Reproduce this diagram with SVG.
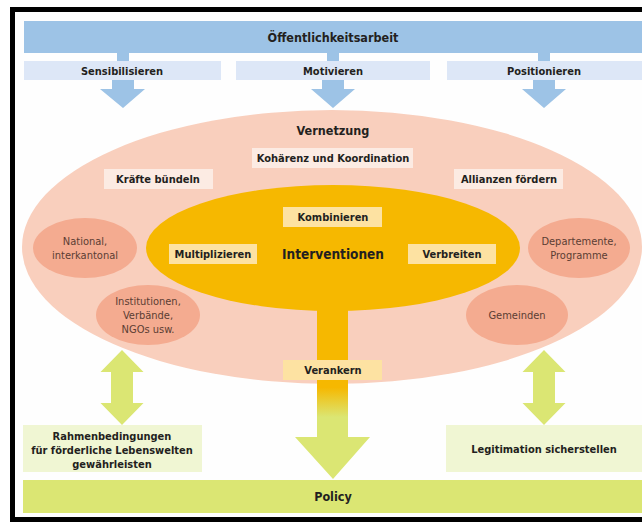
<svg xmlns="http://www.w3.org/2000/svg" width="642" height="523" viewBox="0 0 642 523">
<defs>
<style>
text{font-family:"DejaVu Sans Condensed","DejaVu Sans",sans-serif;fill:#231f20;text-anchor:middle}
.b{font-weight:bold;font-size:11px}
.h{font-weight:bold;font-size:12.5px}
.r{font-size:11px;fill:#5b3d33}
.blue{fill:#9dc3e6}
.lblue{fill:#dde7f7}
.sal{fill:#f9cfbd}
.dsal{fill:#f4ab90}
.gold{fill:#f6b800}
.ly{fill:#fde2a2}
.pk{fill:#fcebe3}
.grn{fill:#dbe673}
.lg{fill:#f0f6d3}
</style>
<linearGradient id="stem" x1="0" y1="0" x2="0" y2="1" gradientUnits="objectBoundingBox">
<stop offset="0" stop-color="#f6b800"/>
<stop offset="0.6" stop-color="#f6b800"/>
<stop offset="0.73" stop-color="#dbe673"/>
<stop offset="1" stop-color="#dbe673"/>
</linearGradient>
</defs>
<rect x="0" y="0" width="642" height="523" fill="#fff"/>
<rect x="12.5" y="9.5" width="640" height="510" fill="#fefefe" stroke="#000" stroke-width="5"/>

<g id="oeffentlichkeitsarbeit">
<rect class="blue" x="24" y="21" width="618" height="32"/>
<text class="h" x="333" y="42">Öffentlichkeitsarbeit</text>
</g>

<g id="connectors">
<rect class="blue" x="117" y="53" width="12" height="8"/>
<rect class="blue" x="327" y="53" width="12" height="8"/>
<rect class="blue" x="538" y="53" width="12" height="8"/>
<path class="blue" d="M112 80H134V89H145L123 108L100 89H112Z"/>
<path class="blue" d="M322 80H344V89H355L333 108L311 89H322Z"/>
<path class="blue" d="M533 80H555V89H566L544 108L522 89H533Z"/>
</g>

<g id="sensibilisieren">
<rect class="lblue" x="24" y="61" width="197" height="19"/>
<text class="b" x="122" y="74.5">Sensibilisieren</text>
</g>
<g id="motivieren">
<rect class="lblue" x="236" y="61" width="194" height="19"/>
<text class="b" x="333" y="74.5">Motivieren</text>
</g>
<g id="positionieren">
<rect class="lblue" x="447" y="61" width="195" height="19"/>
<text class="b" x="544" y="74.5">Positionieren</text>
</g>

<g id="vernetzung">
<ellipse class="sal" cx="332" cy="247" rx="310" ry="137"/>
<text class="h" x="333" y="135">Vernetzung</text>
</g>

<g id="koharenz">
<rect class="pk" x="252" y="148" width="161" height="20"/>
<text class="b" x="333" y="162">Kohärenz und Koordination</text>
</g>
<g id="kraefte">
<rect class="pk" x="104" y="169" width="109" height="20"/>
<text class="b" x="158" y="183">Kräfte bündeln</text>
</g>
<g id="allianzen">
<rect class="pk" x="454" y="169" width="109" height="20"/>
<text class="b" x="509" y="183">Allianzen fördern</text>
</g>

<g id="national">
<ellipse class="dsal" cx="85" cy="248" rx="52" ry="30"/>
<text class="r" x="85" y="245">National,</text>
<text class="r" x="85" y="259">interkantonal</text>
</g>
<g id="institutionen">
<ellipse class="dsal" cx="148" cy="315" rx="52" ry="30"/>
<text class="r" x="148" y="305">Institutionen,</text>
<text class="r" x="148" y="319">Verbände,</text>
<text class="r" x="148" y="333">NGOs usw.</text>
</g>
<g id="departemente">
<ellipse class="dsal" cx="579" cy="248" rx="51" ry="30"/>
<text class="r" x="579" y="245">Departemente,</text>
<text class="r" x="579" y="259">Programme</text>
</g>
<g id="gemeinden">
<ellipse class="dsal" cx="517" cy="315" rx="51" ry="30"/>
<text class="r" x="517" y="319">Gemeinden</text>
</g>

<g id="verankern-arrow">
<path fill="url(#stem)" d="M317 250H348V437H370L333 479L295 437H317Z"/>
</g>

<g id="interventionen">
<ellipse class="gold" cx="333" cy="248" rx="187" ry="63"/>
<text class="h" x="333" y="259" style="font-size:13.5px">Interventionen</text>
</g>
<g id="kombinieren">
<rect class="ly" x="283" y="207" width="99" height="20"/>
<text class="b" x="333" y="221">Kombinieren</text>
</g>
<g id="multiplizieren">
<rect class="ly" x="169" y="244" width="88" height="20"/>
<text class="b" x="213" y="258">Multiplizieren</text>
</g>
<g id="verbreiten">
<rect class="ly" x="408" y="244" width="88" height="20"/>
<text class="b" x="452" y="258">Verbreiten</text>
</g>
<g id="verankern">
<rect class="ly" x="283" y="360" width="99" height="20"/>
<text class="b" x="333" y="374">Verankern</text>
</g>

<g id="double-arrows">
<path class="grn" d="M122 350L143.5 372H133V403H143.5L122 425L100.5 403H111V372H100.5Z"/>
<path class="grn" d="M544 350L565.5 372H555V403H565.5L544 425L522.5 403H533V372H522.5Z"/>
</g>

<g id="rahmenbedingungen">
<rect class="lg" x="23" y="425" width="179" height="47"/>
<text class="b" x="112" y="440">Rahmenbedingungen</text>
<text class="b" x="112" y="454">für förderliche Lebenswelten</text>
<text class="b" x="112" y="468">gewährleisten</text>
</g>
<g id="legitimation">
<rect class="lg" x="446" y="425" width="196" height="47"/>
<text class="b" x="544" y="453">Legitimation sicherstellen</text>
</g>

<g id="policy">
<rect class="grn" x="23" y="480" width="619" height="33"/>
<text class="h" x="333" y="501">Policy</text>
</g>
</svg>
